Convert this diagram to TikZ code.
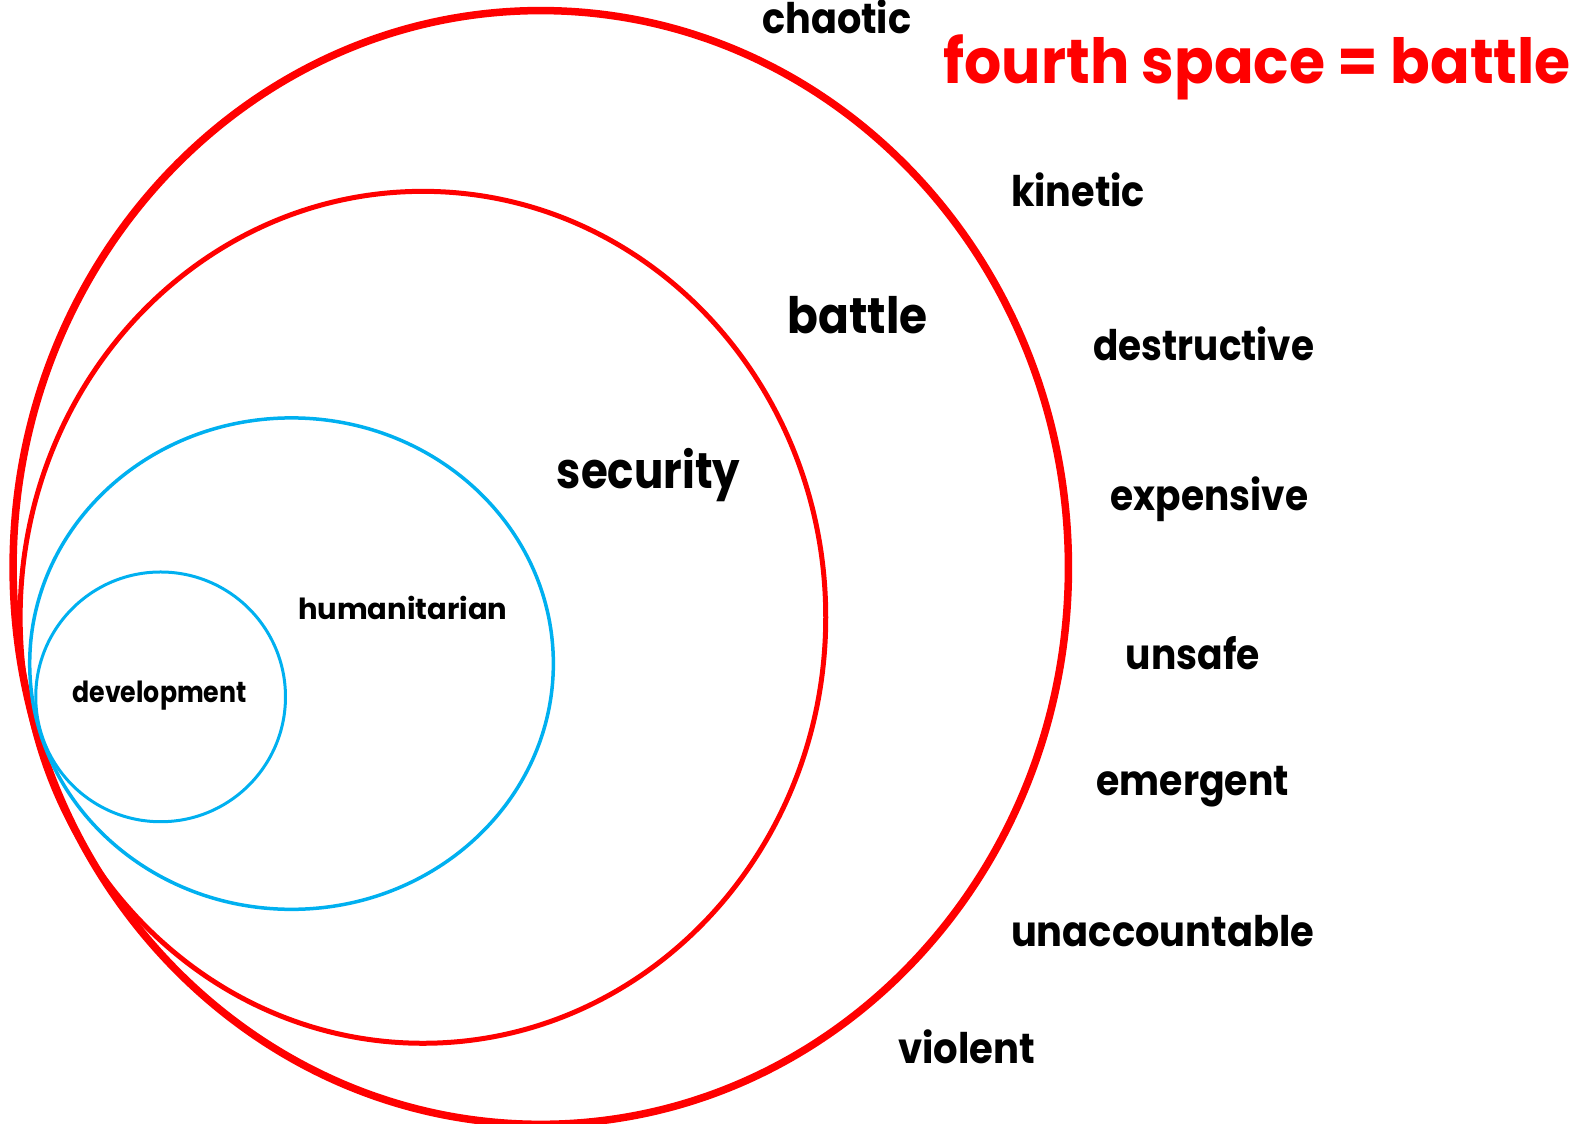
\documentclass[tikz,border=0pt]{standalone}
\usepackage{fontspec}
\usepackage{graphicx}
\setmainfont{Poppins}
\definecolor{fsred}{HTML}{FF0000}
\definecolor{fsblue}{HTML}{00B0F0}
\newcommand\fitw[2]{\resizebox{#1}{\height}{#2}}
\tikzset{
  word/.style={anchor=base, inner sep=0pt, text=black, font=\bfseries\fontsize{42}{42}\selectfont},
  bigword/.style={word, font=\bfseries\fontsize{50}{50}\selectfont},
  smallword/.style={word, font=\bfseries\fontsize{29}{29}\selectfont},
  title/.style={anchor=base, inner sep=0pt, text=fsred, font=\bfseries\fontsize{62}{62}\selectfont},
  redring/.style={draw=fsred},
  bluering/.style={draw=fsblue}
}
\begin{document}
\begin{tikzpicture}[x=1bp,y=-1bp]
\useasboundingbox[fill=white] (0,0) rectangle (1579,1123);
\begin{scope}[scale=1.007, transform shape]
% rings
\draw[redring, line width=7.5bp] (537,563.5) ellipse [x radius=524, y radius=553];
\draw[redring, line width=5bp] (420,613) ellipse [x radius=400, y radius=423];
\draw[bluering, line width=3.5bp] (289.5,659) ellipse [x radius=260, y radius=244];
\draw[bluering, line width=3bp] (159.5,692) circle [radius=124];
% labels
\node[title] (title) at (1248.5,83) {\fitw{623bp}{fourth space = battle}};
\node[word] (chaotic) at (831,33) {\fitw{148bp}{chaotic}};
\node[word] (kinetic) at (1070.5,205) {\fitw{133bp}{kinetic}};
\node[bigword] (battle) at (851.5,331) {\fitw{139bp}{battle}};
\node[word] (destructive) at (1195.5,358) {\fitw{219bp}{destructive}};
\node[bigword] (security) at (644,485) {\fitw{182bp}{security}};
\node[word] (expensive) at (1201,507) {\fitw{196bp}{expensive}};
\node[smallword] (humanitarian) at (400,615) {\fitw{208bp}{humanitarian}};
\node[word] (unsafe) at (1184.5,665) {\fitw{133bp}{unsafe}};
\node[smallword] (development) at (158.5,698) {\fitw{173bp}{development}};
\node[word] (emergent) at (1184.5,790) {\fitw{191bp}{emergent}};
\node[word] (unaccountable) at (1154.5,940) {\fitw{301bp}{unaccountable}};
\node[word] (violent) at (960,1056) {\fitw{136bp}{violent}};
\end{scope}
\end{tikzpicture}
\end{document}
